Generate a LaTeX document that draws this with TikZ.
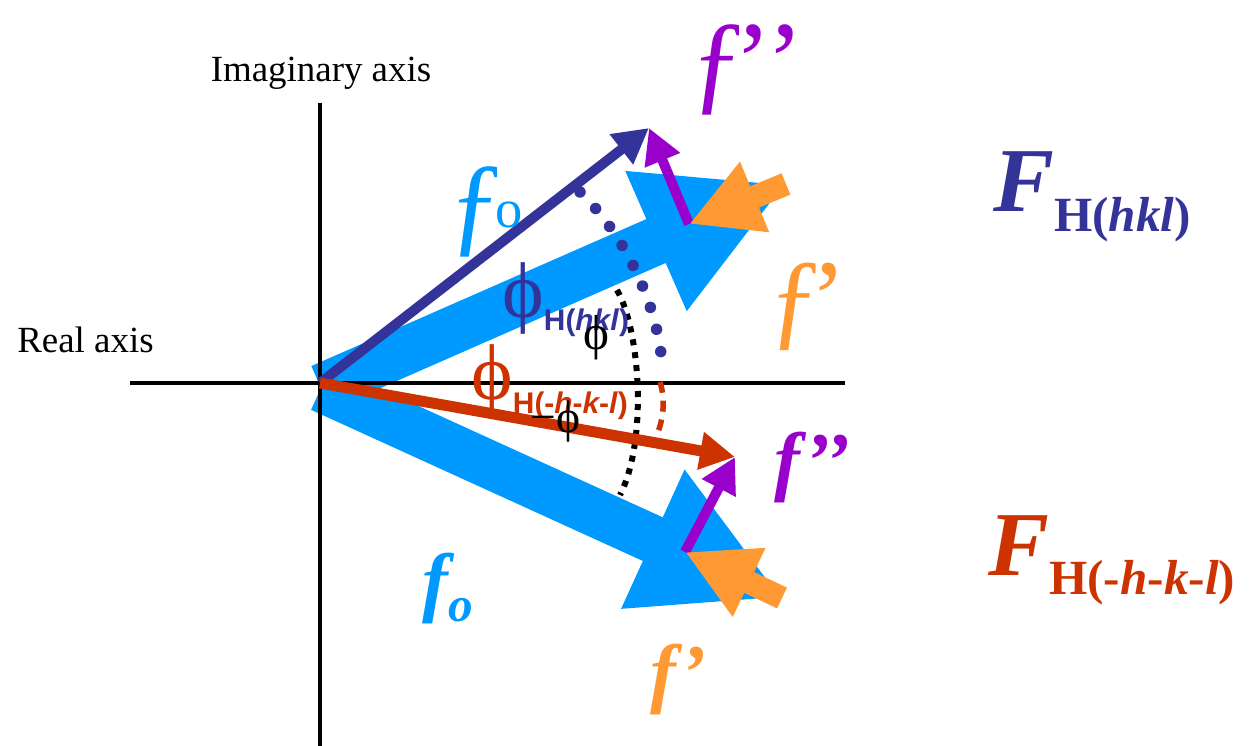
\documentclass[tikz,border=0pt]{standalone}
\usepackage{fontspec}
\setmainfont{Liberation Serif}
\newfontfamily\sanslab{Liberation Sans}
\usepackage{xcolor}
\usepackage{tikz}
\usetikzlibrary{arrows.meta}
\definecolor{fdark}{HTML}{333399}
\definecolor{flight}{HTML}{0099FF}
\definecolor{fpurple}{HTML}{9900CC}
\definecolor{forange}{HTML}{FF9933}
\definecolor{fred}{HTML}{CC3300}
\newcommand{\fsz}[1]{\fontsize{#1}{#1}\selectfont}

\begin{document}
\begin{tikzpicture}[x=0.02cm, y=-0.02cm, every node/.style={inner sep=0pt},
  axisline/.style={line width=0.07cm},
  bigvec/.style={draw=flight, line width=0.96cm, -{Triangle[length=2.84cm, width=2.84cm]}},
  thinvec/.style={line width=0.2cm, -{Triangle[length=0.7cm, width=0.72cm]}},
  anomvec/.style={draw=forange, line width=0.46cm, -{Triangle[length=1.42cm, width=1.42cm]}}]
  \useasboundingbox (0,0) rectangle (1258,746);
  % Argand plane, pixel grid with y downwards
  \coordinate (O)  at (320,383);
  \coordinate (Os) at (321,388);
  \coordinate (xl) at (130,383);
  \coordinate (xr) at (845,383);
  \coordinate (yt) at (320,103);
  \coordinate (yb) at (320,746);
  % (hkl): f_o, then f', then f''
  \coordinate (P1) at (786,184);
  \coordinate (P2) at (689,224);
  \coordinate (P3) at (649,128);
  % (-h-k-l)
  \coordinate (Q1) at (782,598);
  \coordinate (Q2) at (685,552);
  \coordinate (Q3) at (735,457);
  % Normal scattering parts
  \draw[bigvec] (Os) -- (P1);
  \draw[bigvec] (Os) -- (Q1);
  % Axes
  \draw[axisline] (xl) -- (xr);
  \draw[axisline] (yt) -- (yb);
  % Phase arcs
  \draw[fdark, line width=0.23cm, line cap=round, dash pattern=on 0pt off 0.455cm]
    (580,192) .. controls (615,225) and (655,290) .. (662,362);
  \draw[fred, line width=0.11cm, dash pattern=on 0.22cm off 0.16cm]
    (660,382) .. controls (665,398) and (664,416) .. (658,432);
  \draw[black, line width=0.12cm, dash pattern=on 0.12cm off 0.14cm]
    (617,290) .. controls (640,330) and (648,440) .. (620,495);
  % Resultants
  \draw[thinvec, fdark] (O) -- (P3);
  \draw[thinvec, fred, line width=0.22cm] (O) -- (Q3);
  % Anomalous parts
  \draw[thinvec, fpurple] (P2) -- (P3);
  \draw[thinvec, fpurple] (Q2) -- (Q3);
  \draw[anomvec] (P1) -- (P2);
  \draw[anomvec] (Q1) -- (Q2);
  % Labels
  \node[anchor=base] (imlab) at (321,82) {\fsz{21}Imaginary axis};
  \node[anchor=base west] (relab) at (17,353) {\fsz{21}Real axis};
  \node[anchor=base west, text=fdark] (Fhkl) at (993,212)
    {\fsz{52}\bfseries\itshape F\raisebox{-11pt}{\fsz{28}\upshape H(\itshape hkl\/\upshape)}};
  \node[anchor=base west, text=fred] (Fmhkl) at (988,575)
    {\fsz{52}\bfseries\itshape F\raisebox{-11pt}{\fsz{28}\upshape H(-\itshape h\upshape -\itshape k\upshape -\itshape l\/\upshape)}};
  \node[anchor=base west, text=fdark] (phihkl) at (502,318)
    {\fsz{45}ϕ\raisebox{-7pt}{\sanslab\bfseries\fsz{17}H(\itshape hkl\/\upshape)}};
  \node[anchor=base west, text=fred] (phimhkl) at (471,400)
    {\fsz{45}ϕ\raisebox{-7.5pt}{\sanslab\bfseries\fsz{17}H(-\itshape h\upshape -\itshape k\upshape -\itshape l\/\upshape)}};
  \node[anchor=base] (phip) at (596,350) {\fsz{28}ϕ};
  \node[anchor=base east] (phim) at (581,433) {\fsz{26}−ϕ};
  \node[anchor=base west, text=flight] (fo1) at (448,242) {\fsz{64}ƒ\kern-5pt\raisebox{8.5pt}{\fsz{31}o}};
  \node[anchor=base west, text=fpurple] (fpp1) at (690,100) {\fsz{64}ƒ\kern-7pt’\kern-3pt’};
  \node[anchor=base west, text=forange] (fp1) at (768,336) {\fsz{62}ƒ\kern-7pt’};
  \node[anchor=base west, text=flight] (fo2) at (422,607) {\fsz{44}\bfseries\itshape f\raisebox{-8pt}{\fsz{28}o}};
  \node[anchor=base west, text=forange] (fp2) at (650,698) {\fsz{44}\bfseries\itshape f’};
  \node[anchor=base west, text=fpurple] (fpp2) at (774,486) {\fsz{44}\bfseries\itshape f’’};
\end{tikzpicture}
\end{document}
